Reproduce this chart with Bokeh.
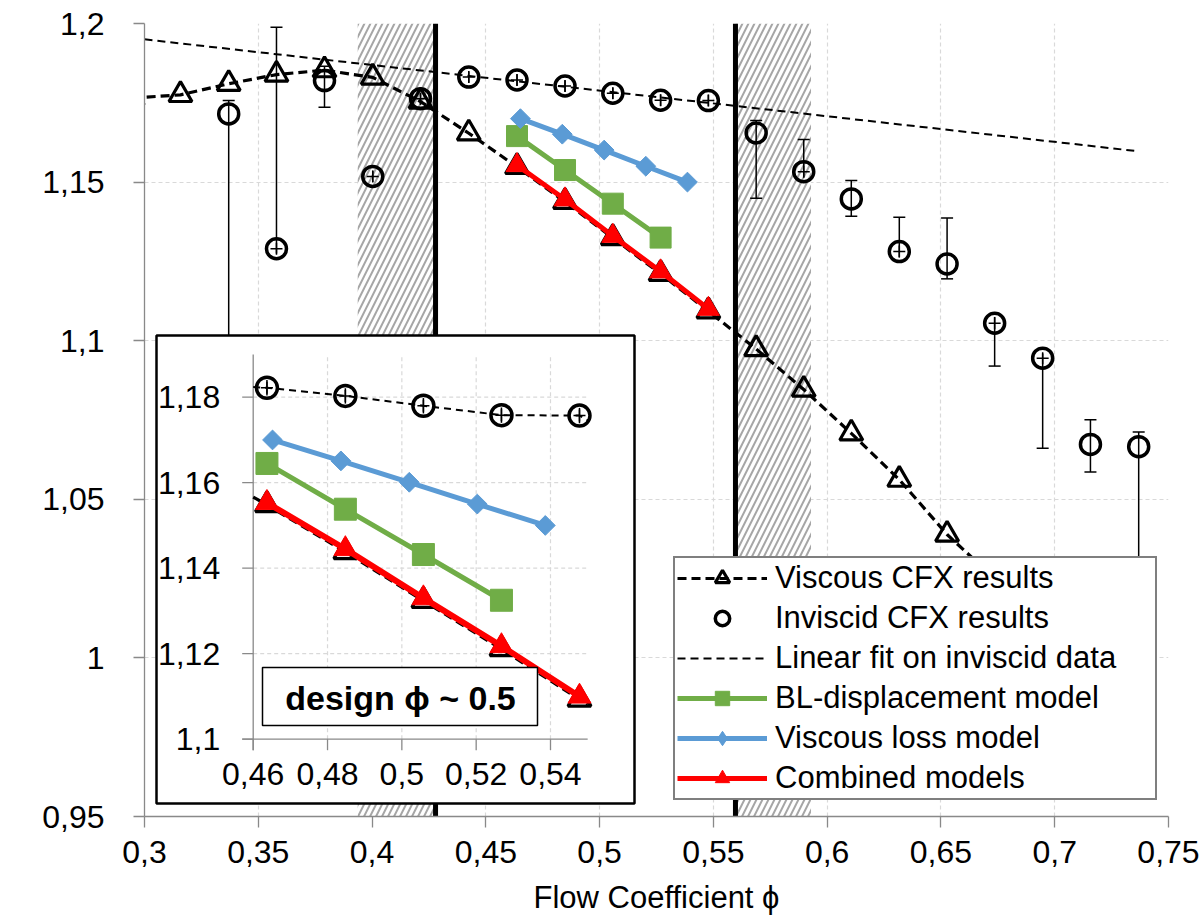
import numpy as np
from bokeh.plotting import figure
from bokeh.models import Range1d, FixedTicker, Legend, LegendItem, Label
from bokeh.core.properties import value
from bokeh.embed import file_html
from bokeh.resources import INLINE

FONT = "Liberation Sans"

# ---------------- data ----------------
x_ticks = [0.3, 0.35, 0.4, 0.45, 0.5, 0.55, 0.6, 0.65, 0.7, 0.75]
x_tick_labels = ["0,3", "0,35", "0,4", "0,45", "0,5", "0,55", "0,6", "0,65", "0,7", "0,75"]
y_ticks = [0.95, 1.0, 1.05, 1.1, 1.15, 1.2]
y_tick_labels = ["0,95", "1", "1,05", "1,1", "1,15", "1,2"]

viscous_x = [0.2948, 0.3158, 0.3370, 0.3580, 0.3791, 0.4003, 0.4213, 0.4425, 0.4637, 0.4848,
             0.5058, 0.5268, 0.5478, 0.5688, 0.5897, 0.6106, 0.6317, 0.6527, 0.6736]
viscous_y = [1.1765, 1.1775, 1.1810, 1.1839, 1.1853, 1.1830, 1.1754, 1.1654, 1.1548, 1.1438,
             1.1324, 1.1211, 1.1093, 1.0974, 1.0846, 1.0708, 1.0562, 1.0389, 1.0250]

inviscid_x = [0.3370, 0.3580, 0.3791, 0.4003, 0.4213, 0.4425, 0.4637, 0.4848, 0.5058, 0.5268,
              0.5478, 0.5688, 0.5897, 0.6106, 0.6317, 0.6527, 0.6736, 0.6947, 0.7157, 0.7369]
inviscid_y = [1.1715, 1.1290, 1.1820, 1.1518, 1.1763, 1.1831, 1.1822, 1.1803, 1.1780, 1.1758,
              1.1757, 1.1655, 1.1533, 1.1447, 1.1281, 1.1242, 1.1055, 1.0945, 1.0673, 1.0666]
inviscid_hi = [1.1757, 1.1988, 1.1865, 1.1536, 1.1781, 1.1849, 1.1840, 1.1821, 1.1798, 1.1776,
               1.1775, 1.1694, 1.1634, 1.1505, 1.1389, 1.1387, 1.1075, 1.0960, 1.0751, 1.0712]
inviscid_lo = [1.0700, 1.1275, 1.1736, 1.1500, 1.1745, 1.1813, 1.1804, 1.1785, 1.1762, 1.1740,
               1.1739, 1.1449, 1.1515, 1.1392, 1.1263, 1.1195, 1.0920, 1.0661, 1.0586, 1.0000]

fit_x = [0.3000, 0.7369]
fit_y = [1.1950, 1.1597]

bl_x = [0.4637, 0.4848, 0.5058, 0.5268]
bl_y = [1.1645, 1.1538, 1.1432, 1.1325]

loss_x = [0.4652, 0.4836, 0.5020, 0.5203, 0.5386]
loss_y = [1.1700, 1.1651, 1.1601, 1.1550, 1.1500]

comb_x = [0.4637, 0.4848, 0.5058, 0.5268, 0.5478]
comb_y = [1.1553, 1.1445, 1.1330, 1.1218, 1.1100]

hatch_x0 = [0.3937, 0.5597]
hatch_x1 = [0.4279, 0.5929]
limit_x = [0.4279, 0.5597]

inset_x_ticks = [0.46, 0.48, 0.50, 0.52, 0.54]
inset_x_tick_labels = ["0,46", "0,48", "0,5", "0,52", "0,54"]
inset_y_ticks = [1.10, 1.12, 1.14, 1.16, 1.18]
inset_y_tick_labels = ["1,1", "1,12", "1,14", "1,16", "1,18"]
INSET_X = (0.46, 0.55)
INSET_Y = (1.10, 1.19)

# ---------------- layout ----------------
W, H = 1200, 917
FL, FR, FT, FB = 144, 1168, 23, 816
X_LO, X_HI, Y_LO, Y_HI = 0.3, 0.75, 0.95, 1.2
PX_X = (FR - FL) / (X_HI - X_LO)
PX_Y = (FB - FT) / (Y_HI - Y_LO)


def mx(px):
    return X_LO + (px - FL) / PX_X


def my(py):
    return Y_HI - (py - FT) / PX_Y


# inset placement (pixel anchors of the inset axes)
ia_x0, ia_x1 = mx(252.7), mx(550.0)      # inset 0.46 / 0.54
ia_y0, ia_y1 = my(738.7), my(396.7)      # inset 1.10 / 1.18
bx = (0.54 - 0.46) / (ia_x1 - ia_x0)
by = (1.18 - 1.10) / (ia_y1 - ia_y0)
ix_range = Range1d(0.46 + (X_LO - ia_x0) * bx, 0.46 + (X_HI - ia_x0) * bx)
iy_range = Range1d(1.10 + (Y_LO - ia_y0) * by, 1.10 + (Y_HI - ia_y0) * by)
TICK_PX = 11
tx = TICK_PX / PX_X * bx
ty = TICK_PX / PX_Y * by

p = figure(width=W, height=H, output_backend="svg", toolbar_location=None,
           x_range=Range1d(X_LO, X_HI), y_range=Range1d(Y_LO, Y_HI),
           min_border_left=FL, min_border_right=W - FR,
           min_border_top=FT, min_border_bottom=H - FB)
p.extra_x_ranges = {"ix": ix_range}
p.extra_y_ranges = {"iy": iy_range}
p.outline_line_color = None
p.background_fill_color = "white"
p.border_fill_color = "white"

xt = FixedTicker(ticks=x_ticks)
yt = FixedTicker(ticks=y_ticks)
p.xaxis.ticker = xt
p.yaxis.ticker = yt
p.xgrid.ticker = xt
p.ygrid.ticker = yt
p.xaxis.major_label_overrides = dict(zip(x_ticks, x_tick_labels))
p.yaxis.major_label_overrides = dict(zip(y_ticks, y_tick_labels))
for g in (p.xgrid, p.ygrid):
    g.grid_line_color = "#d9d9d9"
    g.grid_line_dash = "4 3"
    g.grid_line_width = 1.2
for ax in (p.xaxis, p.yaxis):
    ax.axis_line_color = "#898989"
    ax.axis_line_width = 1.3
    ax.major_tick_line_color = "#898989"
    ax.major_tick_line_width = 1.3
    ax.major_tick_out = TICK_PX
    ax.major_tick_in = 0
    ax.minor_tick_line_color = None
    ax.major_label_text_font = FONT
    ax.major_label_text_font_size = "32px"
    ax.major_label_text_color = "black"
p.xaxis.major_label_standoff = 13
p.yaxis.major_label_standoff = 29
p.xaxis.axis_label = "Flow Coefficient ϕ"
p.xaxis.axis_label_text_font = FONT
p.xaxis.axis_label_text_font_size = "31px"
p.xaxis.axis_label_text_font_style = "normal"
p.xaxis.axis_label_text_color = "black"
p.xaxis.axis_label_standoff = 14

p.add_layout(Label(x=mx(22), y=my(347), text="Pressure Ratio (Total-to-Total) (πT) [-]",
                   angle=np.pi / 2, text_align="center", text_baseline="middle",
                   text_font=FONT, text_font_size="25px", text_color="black"))

# ---------------- main glyphs ----------------
p.quad(left=hatch_x0, right=hatch_x1, bottom=Y_LO, top=Y_HI, fill_color="white",
       line_color=None, hatch_pattern="/", hatch_color="#a6a6a6", hatch_scale=12,
       hatch_weight=2)
p.segment(x0=limit_x, y0=Y_LO, x1=limit_x, y1=Y_HI, line_color="black", line_width=5)

fit_r = p.line(fit_x, fit_y, line_color="black", line_width=2, line_dash="8 5")


def error_bars(xs, ys, lo, hi, thr, **kw):
    xs, ys, lo, hi = map(np.asarray, (xs, ys, lo, hi))
    p.segment(x0=xs, y0=lo, x1=xs, y1=hi, line_color="black", line_width=1.5, **kw)
    cap_hi = (hi - ys) > thr
    cap_lo = (ys - lo) > thr
    p.scatter(np.r_[xs[cap_hi], xs[cap_lo]], np.r_[hi[cap_hi], lo[cap_lo]], marker="dash",
              size=12, line_color="black", line_width=1.5, **kw)
    inner = ~(cap_hi & cap_lo)
    p.scatter(xs[inner], ys[inner], marker="cross", size=12, line_color="black",
              line_width=1.5, **kw)


error_bars(inviscid_x, inviscid_y, inviscid_lo, inviscid_hi, 0.003)
inv_r = p.scatter(inviscid_x, inviscid_y, marker="circle", size=20, fill_color=None,
                  line_color="black", line_width=3.5)

visc_line = p.line(viscous_x, viscous_y, line_color="black", line_width=3.2, line_dash="9 5")
visc_tri = p.scatter(viscous_x, viscous_y, marker="triangle", size=23, fill_color=None,
                     line_color="black", line_width=3.2)

GREEN, BLUE, RED = "#70ad47", "#5b9bd5", "#ff0000"
bl_line = p.line(bl_x, bl_y, line_color=GREEN, line_width=5)
bl_mk = p.scatter(bl_x, bl_y, marker="square", size=21, fill_color=GREEN, line_color=GREEN)
loss_line = p.line(loss_x, loss_y, line_color=BLUE, line_width=5)
# diamond key (used by the legend), covered by the larger rotated squares below
loss_key = p.scatter(loss_x, loss_y, marker="diamond", size=14, fill_color=BLUE,
                     line_color=BLUE)
loss_mk = p.scatter(loss_x, loss_y, marker="square", angle=np.pi / 4, size=14,
                    fill_color=BLUE, line_color=BLUE)
comb_line = p.line(comb_x, comb_y, line_color=RED, line_width=5)
comb_mk = p.scatter(comb_x, comb_y, marker="triangle", size=22, fill_color=RED,
                    line_color=RED, line_width=1)

# ---------------- inset ----------------
p.quad(left=mx(156), right=mx(634), top=my(335), bottom=my(803), fill_color="white",
       line_color="black", line_width=2.5)
ik = dict(x_range_name="ix", y_range_name="iy")

p.segment(x0=inset_x_ticks[1:], y0=INSET_Y[0], x1=inset_x_ticks[1:], y1=INSET_Y[1],
          line_color="#d9d9d9", line_dash="4 3", line_width=1.2, **ik)
p.segment(x0=INSET_X[0], y0=inset_y_ticks[1:], x1=INSET_X[1], y1=inset_y_ticks[1:],
          line_color="#d9d9d9", line_dash="4 3", line_width=1.2, **ik)
p.segment(x0=[INSET_X[0], INSET_X[0] - tx], y0=[INSET_Y[1], INSET_Y[0]],
          x1=[INSET_X[0], INSET_X[1]], y1=[INSET_Y[0] - ty, INSET_Y[0]],
          line_color="#898989", line_width=1.3, **ik)
p.segment(x0=INSET_X[0] - tx, y0=inset_y_ticks, x1=INSET_X[0], y1=inset_y_ticks,
          line_color="#898989", line_width=1.3, **ik)
p.segment(x0=inset_x_ticks, y0=INSET_Y[0] - ty, x1=inset_x_ticks, y1=INSET_Y[0],
          line_color="#898989", line_width=1.3, **ik)
p.text(x=inset_x_ticks, y=INSET_Y[0], text=inset_x_tick_labels, y_offset=35,
       text_align="center", text_baseline="middle", text_font=value(FONT),
       text_font_size=value("32px"), text_color="black", **ik)
p.text(x=INSET_X[0], y=inset_y_ticks, text=inset_y_tick_labels, x_offset=-33,
       text_align="right", text_baseline="middle", text_font=value(FONT),
       text_font_size=value("32px"), text_color="black", **ik)


def clip_line(xs, ys, lo, hi):
    xs = np.asarray(xs, dtype=float)
    ys = np.asarray(ys, dtype=float)
    keep = (xs >= lo) & (xs <= hi)
    ox, oy = list(xs[keep]), list(ys[keep])
    if xs.min() < lo:
        ox.insert(0, lo)
        oy.insert(0, float(np.interp(lo, xs, ys)))
    if xs.max() > hi:
        ox.append(hi)
        oy.append(float(np.interp(hi, xs, ys)))
    return ox, oy


def in_range(xs, *cols):
    xs = np.asarray(xs, dtype=float)
    keep = (xs >= INSET_X[0]) & (xs <= INSET_X[1])
    return [xs[keep]] + [np.asarray(c, dtype=float)[keep] for c in cols]


# viscous (inset)
lx, ly = clip_line(viscous_x, viscous_y, *INSET_X)
p.line(lx, ly, line_color="black", line_width=3.2, line_dash="9 5", **ik)
vx, vy = in_range(viscous_x, viscous_y)
p.scatter(vx, vy, marker="triangle", size=23, fill_color=None, line_color="black",
          line_width=3.2, **ik)
# inviscid (inset)
lx, ly = clip_line(inviscid_x, inviscid_y, *INSET_X)
p.line(lx, ly, line_color="black", line_width=2, line_dash="7 5", **ik)
ex, ey, elo, ehi = in_range(inviscid_x, inviscid_y, inviscid_lo, inviscid_hi)
error_bars(ex, ey, np.clip(elo, *INSET_Y), np.clip(ehi, *INSET_Y), 0.003, **ik)
p.scatter(ex, ey, marker="circle", size=21, fill_color=None, line_color="black",
          line_width=3.5, **ik)
# models (inset)
p.line(bl_x, bl_y, line_color=GREEN, line_width=5, **ik)
p.scatter(bl_x, bl_y, marker="square", size=22, fill_color=GREEN, line_color=GREEN, **ik)
p.line(loss_x, loss_y, line_color=BLUE, line_width=5, **ik)
p.scatter(loss_x, loss_y, marker="square", angle=np.pi / 4, size=14, fill_color=BLUE,
          line_color=BLUE, **ik)
p.line(comb_x, comb_y, line_color=RED, line_width=6, **ik)
p.scatter(comb_x, comb_y, marker="triangle", size=23, fill_color=RED, line_color=RED,
          line_width=1, **ik)

# design annotation box
p.quad(left=mx(262), right=mx(537), top=my(667), bottom=my(725), fill_color="white",
       line_color="black", line_width=1.5)
p.text(x=[mx(400)], y=[my(697)], text=["design ϕ ~ 0.5"], text_align="center",
       text_baseline="middle", text_font=value(FONT), text_font_size=value("34px"),
       text_font_style="bold", text_color="black")

# ---------------- legend ----------------
legend = Legend(items=[
    LegendItem(label="Viscous CFX results", renderers=[visc_line, visc_tri]),
    LegendItem(label="Inviscid CFX results", renderers=[inv_r]),
    LegendItem(label="Linear fit on inviscid data", renderers=[fit_r]),
    LegendItem(label="BL-displacement model", renderers=[bl_line, bl_mk]),
    LegendItem(label="Viscous loss model", renderers=[loss_line, loss_key]),
    LegendItem(label="Combined models", renderers=[comb_line, comb_mk]),
], location=(673 - FL, FB - 800))
legend.label_text_font = FONT
legend.label_text_font_size = "31px"
legend.label_text_color = "black"
legend.glyph_width = 90
legend.glyph_height = 36
legend.label_height = 36
legend.label_width = 378
legend.label_standoff = 8
legend.spacing = 4
legend.padding = 2
legend.margin = 0
legend.border_line_color = "black"
legend.border_line_width = 2
legend.background_fill_color = "white"
legend.background_fill_alpha = 1.0
p.add_layout(legend)

open("out.html", "w").write(file_html(p, INLINE))
